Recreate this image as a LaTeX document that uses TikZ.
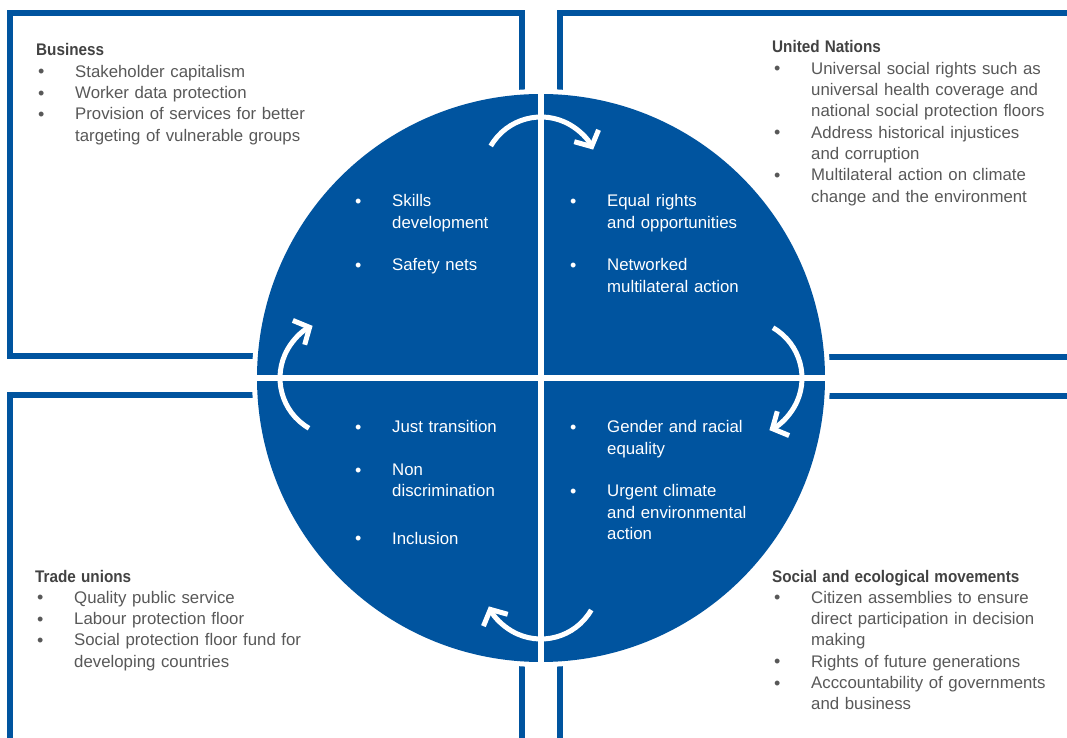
\documentclass[tikz,border=0pt]{standalone}
\usepackage{fontspec}
\setmainfont{Liberation Sans}
\usetikzlibrary{arrows.meta}

\definecolor{unblue}{RGB}{0,84,159}
\definecolor{listgray}{RGB}{88,88,88}
\definecolor{headgray}{RGB}{66,66,66}

\newcommand{\bl}{\makebox[39pt][l]{\hspace{2pt}\raisebox{-0.5pt}{\fontsize{18}{18}\selectfont\textbullet}}}
\newcommand{\ind}{\makebox[39pt]{}}
\newcommand{\head}[1]{\scalebox{0.91}[1]{\bfseries\color{headgray}#1}}

\begin{document}
\begin{tikzpicture}[x=1pt, y=1pt, >={Straight Barb[length=12pt,width=27pt]},
  box/.style={draw=unblue, line width=6pt},
  outer/.style={anchor=base west, inner sep=0pt, text width=330pt, align=left, text=listgray, font=\fontsize{16.8}{21.3}\selectfont},
  inner/.style={anchor=base west, inner sep=0pt, text width=200pt, align=left, text=white, font=\fontsize{16.8}{21.3}\selectfont},
  turn/.style={->, draw=white, line width=5pt}]
\useasboundingbox (-541,378) rectangle (526,-360);

\draw[box] (-531,365) rectangle (-19,22);
\draw[box] (19,365) rectangle (545,21);
\draw[box] (-531,-17) rectangle (-19,-370);
\draw[box] (19,-18) rectangle (545,-370);

\fill[white] (0,0) circle (289);
\fill[unblue] (0,0) circle (284);
\draw[white, line width=6pt] (0,-290) -- (0,290);
\draw[white, line width=6pt] (-290,0) -- (290,0);

\draw[turn] (0,203) ++(150:58) arc[start angle=150, end angle=26, radius=58];
\draw[turn] (203,0) ++(60:58) arc[start angle=60, end angle=-64, radius=58];
\draw[turn] (0,-203) ++(-30:58) arc[start angle=-30, end angle=-154, radius=58];
\draw[turn] (-203,0) ++(240:58) arc[start angle=240, end angle=116, radius=58];

\node[outer] (business) at (-505,322) {\head{Business}\\
  \bl Stakeholder capitalism\\
  \bl Worker data protection\\
  \bl Provision of services for better\\
  \ind targeting of vulnerable groups};
\node[outer] (un) at (231,325) {\head{United Nations}\\
  \bl Universal social rights such as\\
  \ind universal health coverage and\\
  \ind national social protection floors\\
  \bl Address historical injustices\\
  \ind and corruption\\
  \bl Multilateral action on climate\\
  \ind change and the environment};
\node[outer] (unions) at (-506,-204) {\head{Trade unions}\\
  \bl Quality public service\\
  \bl Labour protection floor\\
  \bl Social protection floor fund for\\
  \ind developing countries};
\node[outer] (movements) at (231,-204) {\head{Social and ecological movements}\\
  \bl Citizen assemblies to ensure\\
  \ind direct participation in decision\\
  \ind making\\
  \bl Rights of future generations\\
  \bl Acccountability of governments\\
  \ind and business};

\node[inner] (skills) at (-188,171) {\bl Skills\\
  \ind development\\[21.3pt]
  \bl Safety nets};
\node[inner] (rights) at (27,171) {\bl Equal rights\\
  \ind and opportunities\\[21.3pt]
  \bl Networked\\
  \ind multilateral action};
\node[inner] (transition) at (-188,-55) {\bl Just transition\\[21.3pt]
  \bl Non\\
  \ind discrimination\\[26pt]
  \bl Inclusion};
\node[inner] (equality) at (27,-55) {\bl Gender and racial\\
  \ind equality\\[21.3pt]
  \bl Urgent climate\\
  \ind and environmental\\
  \ind action};
\end{tikzpicture}
\end{document}
